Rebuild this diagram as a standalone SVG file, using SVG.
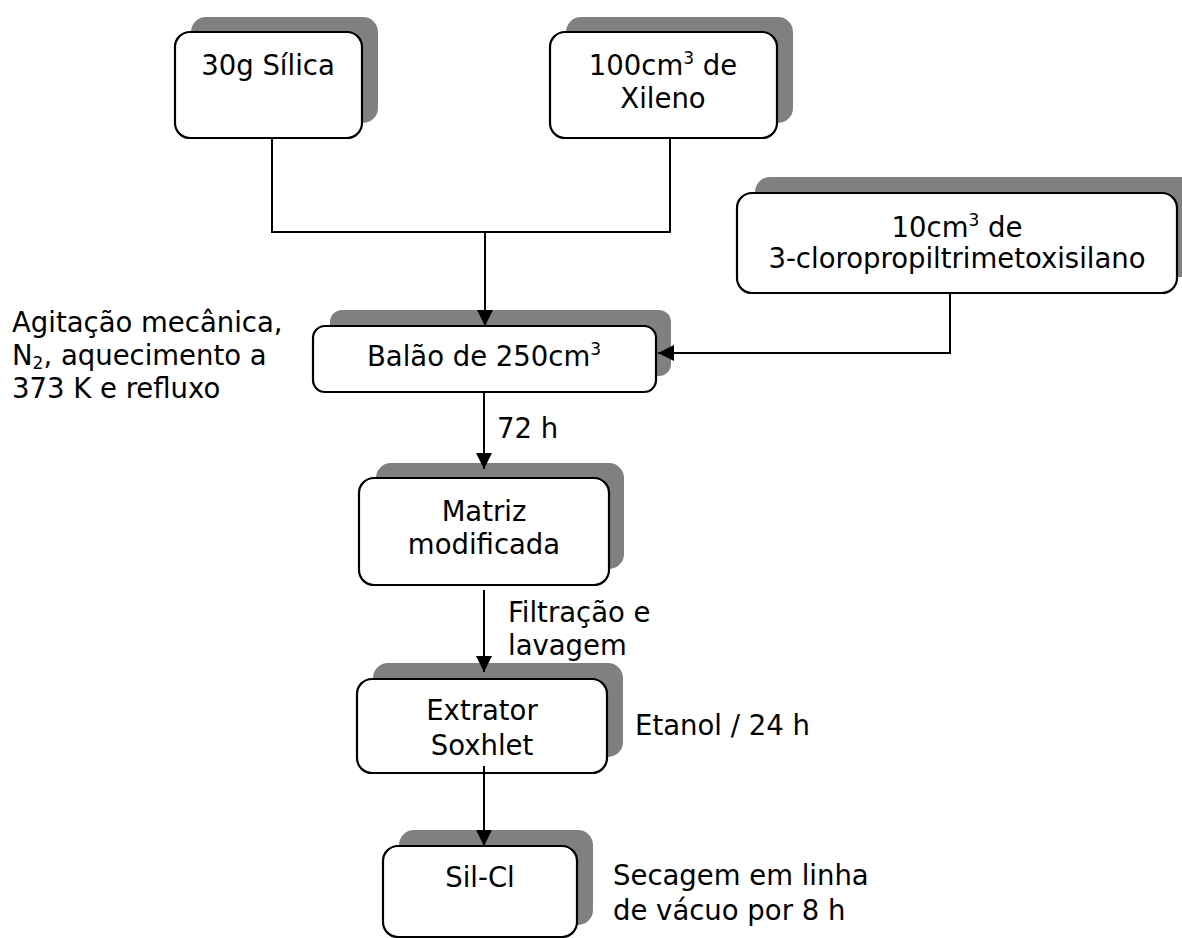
<svg xmlns="http://www.w3.org/2000/svg" width="1182" height="938" viewBox="0 0 1182 938">
<style>
  text { font-family: "DejaVu Sans", Verdana, sans-serif; font-size: 27.5px; fill: #000; }
  .c { text-anchor: middle; }
  .box { fill: #fff; stroke: #000; stroke-width: 2.2; }
  .sh { fill: #808080; stroke: none; }
  .ln { fill: none; stroke: #000; stroke-width: 2; }
  .sup { font-size: 17px; }
</style>
<defs>
  <marker id="ah" markerUnits="userSpaceOnUse" markerWidth="16" markerHeight="18" viewBox="0 0 16 18" refX="16" refY="9" orient="auto">
    <path d="M0,1 L16,9 L0,17 Z" fill="#000"/>
  </marker>
</defs>
<rect width="1182" height="938" fill="#fff"/>

<g id="silica">
  <rect class="sh" x="191" y="17" width="187" height="106" rx="15"/>
  <rect class="box" x="175" y="32" width="187" height="106" rx="15"/>
  <text class="c" x="268" y="75">30g Sílica</text>
</g>

<g id="xileno">
  <rect class="sh" x="566" y="17" width="227" height="106" rx="15"/>
  <rect class="box" x="550" y="32" width="227" height="106" rx="15"/>
  <text class="c" x="663" y="75">100cm<tspan class="sup" dy="-11">3</tspan><tspan dy="11"> de</tspan></text>
  <text class="c" x="663" y="108">Xileno</text>
</g>

<g id="cloro">
  <rect class="sh" x="755" y="177" width="440" height="100" rx="15"/>
  <rect class="box" x="737" y="193" width="440" height="100" rx="15"/>
  <text class="c" x="957" y="237">10cm<tspan class="sup" dy="-11">3</tspan><tspan dy="11"> de</tspan></text>
  <text class="c" x="957" y="268">3-cloropropiltrimetoxisilano</text>
</g>

<g id="balao">
  <rect class="sh" x="330" y="310" width="341" height="66" rx="12"/>
  <rect class="box" x="313" y="326" width="343" height="66" rx="12"/>
  <text class="c" x="484" y="366">Balão de 250cm<tspan class="sup" dy="-11">3</tspan></text>
</g>

<g id="cond1">
  <text x="12" y="332">Agitação mecânica,</text>
  <text x="12" y="365">N<tspan class="sup" dy="4">2</tspan><tspan dy="-4">, aquecimento a</tspan></text>
  <text x="12" y="398">373 K e refluxo</text>
</g>

<g id="lbl72">
  <text x="497" y="438">72 h</text>
</g>

<g id="matriz">
  <rect class="sh" x="376" y="463" width="248" height="106" rx="15"/>
  <rect class="box" x="359" y="478" width="250" height="107" rx="15"/>
  <text class="c" x="484" y="521">Matriz</text>
  <text class="c" x="484" y="554">modificada</text>
</g>

<g id="lblfiltra">
  <text x="508" y="622">Filtração e</text>
  <text x="508" y="655">lavagem</text>
</g>

<g id="extrator">
  <rect class="sh" x="373" y="663" width="250" height="94" rx="15"/>
  <rect class="box" x="357" y="679" width="250" height="94" rx="15"/>
  <text class="c" x="482" y="720">Extrator</text>
  <text class="c" x="482" y="755">Soxhlet</text>
</g>

<g id="lbletanol">
  <text x="635" y="735">Etanol / 24 h</text>
</g>

<g id="silcl">
  <rect class="sh" x="399" y="830" width="194" height="95" rx="15"/>
  <rect class="box" x="383" y="846" width="194" height="91" rx="15"/>
  <text class="c" x="480" y="887">Sil-Cl</text>
</g>

<g id="lblsecagem">
  <text x="613" y="885">Secagem em linha</text>
  <text x="613" y="920">de vácuo por 8 h</text>
</g>

<g id="connectors">
  <polyline class="ln" points="272,139 272,232 670,232 670,139"/>
  <line class="ln" x1="485" y1="232" x2="485" y2="326" marker-end="url(#ah)"/>
  <polyline class="ln" points="950,294 950,353 658,353" marker-end="url(#ah)"/>
  <line class="ln" x1="484" y1="393" x2="484" y2="469" marker-end="url(#ah)"/>
  <line class="ln" x1="484" y1="590" x2="484" y2="672" marker-end="url(#ah)"/>
  <line class="ln" x1="484" y1="766" x2="484" y2="846" marker-end="url(#ah)"/>
</g>
</svg>
